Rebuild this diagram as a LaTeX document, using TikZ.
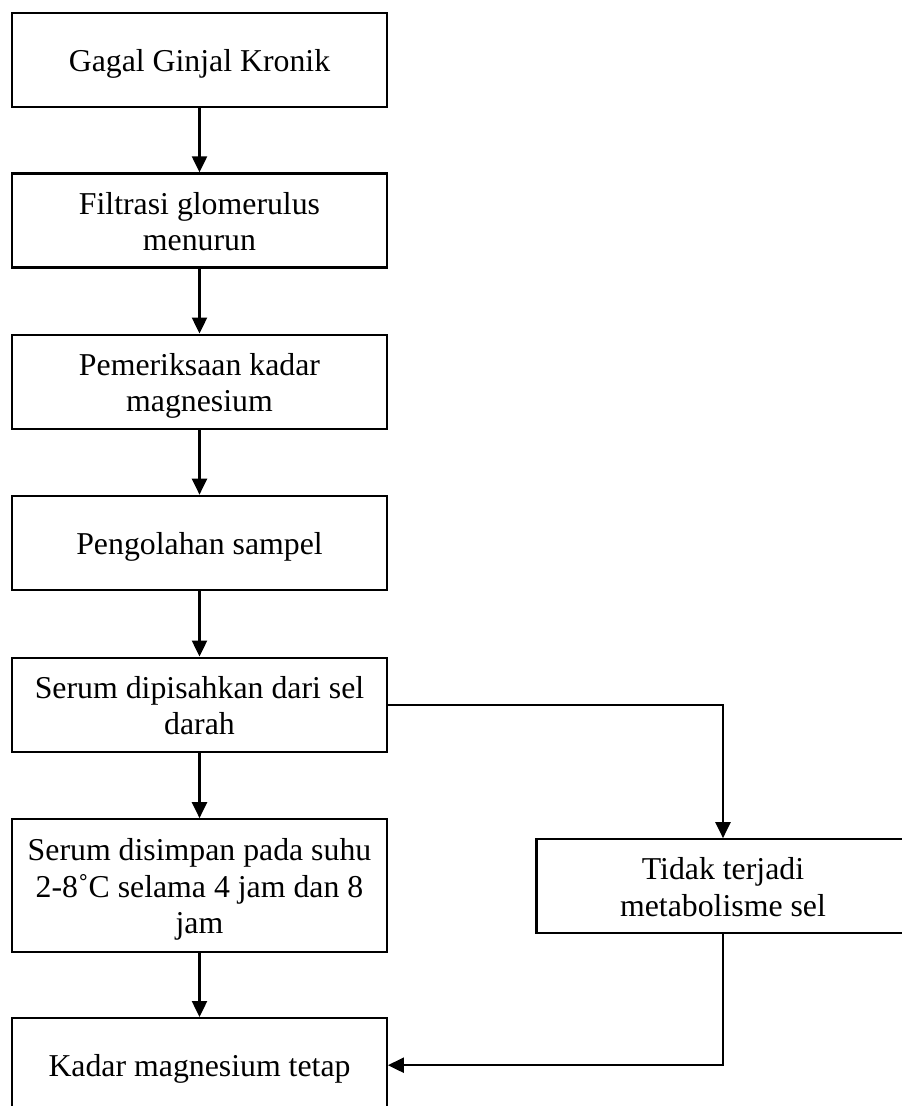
\documentclass[tikz,border=0pt]{standalone}
\usepackage{fontspec}
\setmainfont{Liberation Serif}
\usetikzlibrary{arrows.meta}
\newcommand\boxtext[1]{\raisebox{-4.5pt}[\height][\depth]{\begin{tabular}{@{}c@{}}#1\end{tabular}}}
\begin{document}
\begin{tikzpicture}[x=1pt,y=-1pt,
  box/.style={draw, line width=2.3pt, minimum width=374.4pt, minimum height=94pt,
    inner sep=0pt, font=\fontsize{31.8}{36.3}\selectfont},
  conn/.style={line width=2.2pt, -{Triangle[width=15pt,length=16pt]}}]
\useasboundingbox (0,0) rectangle (902,1106);
\clip (0,0) rectangle (902,1106);
\node[box] (b1) at (199.5,59.7) {\boxtext{Gagal Ginjal Kronik}};
\node[box] (b2) at (199.5,220.5) {\boxtext{Filtrasi glomerulus\\menurun}};
\node[box] (b3) at (199.5,381.7) {\boxtext{Pemeriksaan kadar\\magnesium}};
\node[box] (b4) at (199.5,542.8) {\boxtext{Pengolahan sampel}};
\node[box] (b5) at (199.5,704.7) {\boxtext{Serum dipisahkan dari sel\\darah}};
\node[box, minimum height=132.4pt] (b6) at (199.5,885.5) {\boxtext{Serum disimpan pada suhu\\2-8˚C selama 4 jam dan 8\\jam}};
\node[box] (b7) at (199.5,1065.2) {\boxtext{Kadar magnesium tetap}};
\node[box, minimum width=372.8pt] (r) at (723,886.3) {\boxtext{Tidak terjadi\\metabolisme sel}};
\draw[conn] (b1) -- (b2);
\draw[conn] (b2) -- (b3);
\draw[conn] (b3) -- (b4);
\draw[conn] (b4) -- (b5);
\draw[conn] (b5) -- (b6);
\draw[conn] (b6) -- (b7);
\draw[conn] (b5.east) -| (r.north);
\draw[conn] (r.south) |- (b7.east);
\end{tikzpicture}
\end{document}
